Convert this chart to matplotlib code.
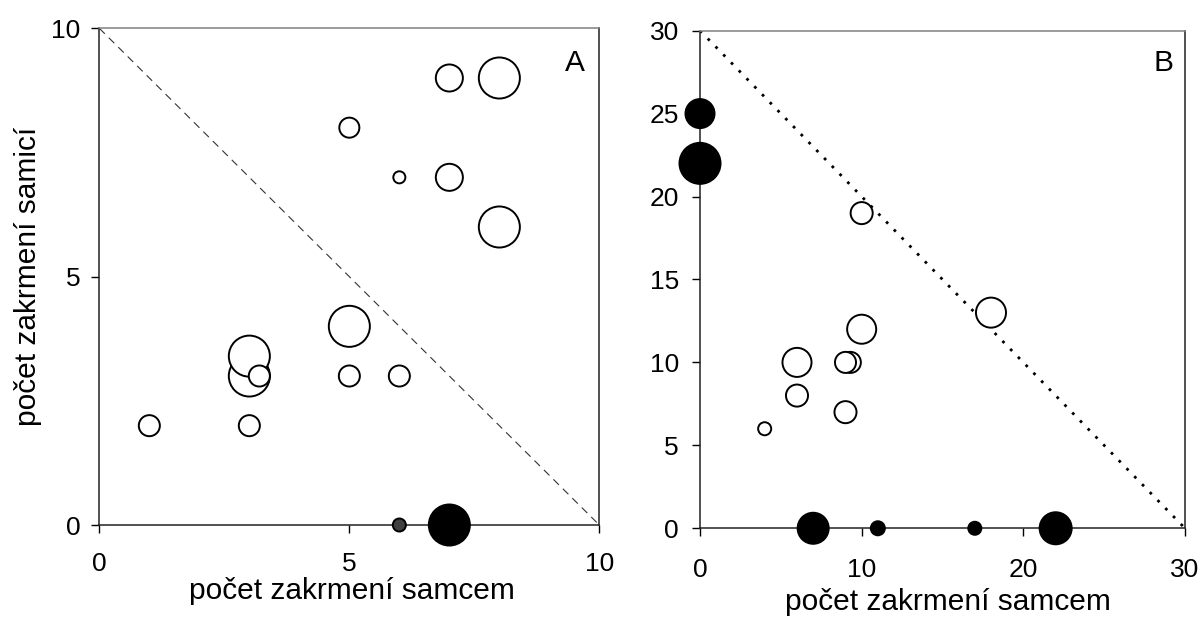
import matplotlib.pyplot as plt
import numpy as np

plt.rcParams['font.family'] = ['Liberation Sans', 'DejaVu Sans']

# panel A: feeding by male (x), by female (y), bubble size (diameter, px)
a_x = [1, 3, 3, 3, 3.2, 5, 5, 5, 6, 6, 7, 7, 8, 8, 6, 7]
a_y = [2, 2, 3, 3.4, 3, 3, 4, 8, 3, 7, 7, 9, 9, 6, 0, 0]
a_size = [23, 23, 43, 43, 23, 23, 43, 22, 23, 14, 29, 29, 43, 43, 15, 43]
a_fill = ['white'] * 14 + ['#404040', 'black']

# panel B
b_x = [0, 0, 10, 18, 10, 6, 9.3, 9, 6, 9, 4, 7, 11, 17, 22]
b_y = [25, 22, 19, 13, 12, 10, 10, 10, 8, 7, 6, 0, 0, 0, 0]
b_size = [31, 43, 24, 32, 31, 31, 23, 23, 24, 24, 15, 33, 16, 15, 34]
b_fill = ['black', 'black'] + ['white'] * 9 + ['black'] * 4

xlabel = 'počet zakrmení samcem'
ylabel = 'počet zakrmení samicí'

lw_edge = 1.4


def px_to_area(d):
    d_pt = np.array(d) * 72 / 100.0
    return (d_pt - lw_edge) ** 2


def style_axes(ax, lim, ticks_x, ticks_y, xpad, ypad):
    ax.set_xlim(0, lim)
    ax.set_ylim(0, lim)
    ax.set_xticks(ticks_x)
    ax.set_yticks(ticks_y)
    ax.tick_params(direction='out', length=5.8, width=1.0, labelsize=19,
                   colors='black')
    ax.tick_params(axis='x', pad=xpad)
    ax.tick_params(axis='y', pad=ypad)
    for side in ['left', 'bottom', 'right']:
        ax.spines[side].set_color('#222222')
        ax.spines[side].set_linewidth(1.1)
    ax.spines['top'].set_color('#808080')
    ax.spines['top'].set_linewidth(1.1)


fig = plt.figure(figsize=(12.04, 6.28), dpi=100)

axA = fig.add_axes([0.0825, 0.1640, 0.4153, 0.7909])
axA.plot([0, 10], [10, 0], color='#333333', lw=0.8, ls=(0, (7, 5)), zorder=1)
axA.scatter(a_x, a_y, s=px_to_area(a_size), c=a_fill, edgecolors='black',
            linewidths=lw_edge, zorder=3, clip_on=False)
style_axes(axA, 10, [0, 5, 10], [0, 5, 10], 13.5, 8)
axA.set_xlabel(xlabel, fontsize=21.5)
axA.xaxis.set_label_coords(0.505, -0.105)
axA.set_ylabel(ylabel, fontsize=21.5)
axA.yaxis.set_label_coords(-0.115, 0.5)
axA.text(0.952, 0.931, 'A', transform=axA.transAxes, fontsize=21.5,
         ha='center', va='center')

axB = fig.add_axes([0.5814, 0.1588, 0.4028, 0.7924])
axB.plot([0, 30], [30, 0], color='black', lw=2.0, ls=(0, (1, 3)), zorder=1)
axB.scatter(b_x, b_y, s=px_to_area(b_size), c=b_fill, edgecolors='black',
            linewidths=lw_edge, zorder=3, clip_on=False)
style_axes(axB, 30, [0, 10, 20, 30], [0, 5, 10, 15, 20, 25, 30], 15.5, 9.5)
axB.set_xlabel(xlabel, fontsize=21.5)
axB.xaxis.set_label_coords(0.512, -0.12)
axB.text(0.956, 0.935, 'B', transform=axB.transAxes, fontsize=21.5,
         ha='center', va='center')

fig.savefig('out.png', dpi=100)
